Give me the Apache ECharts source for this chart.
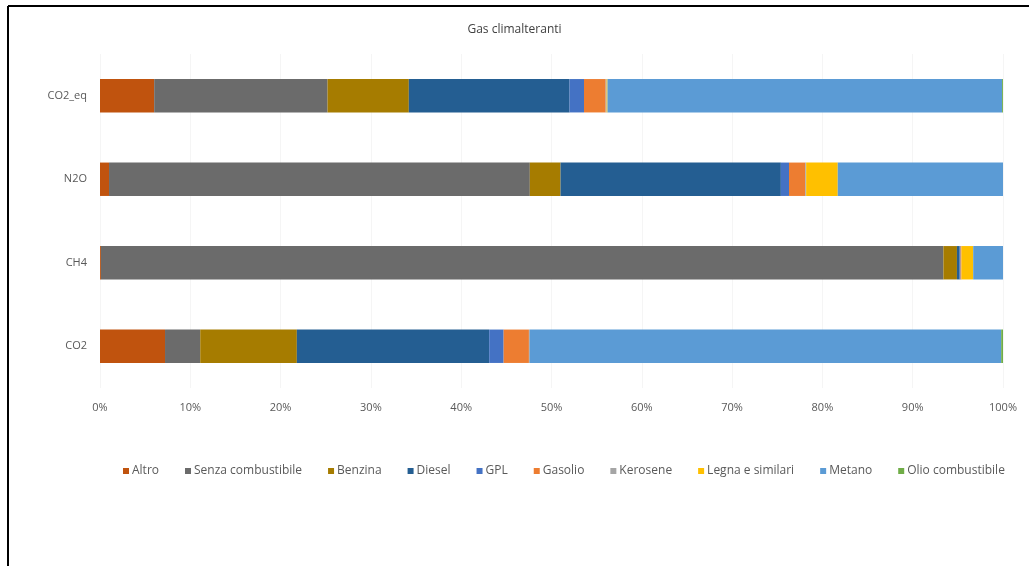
<!DOCTYPE html>
<html><head><meta charset="utf-8">
<script src="https://cdn.jsdelivr.net/npm/echarts@6/dist/echarts.min.js"></script>
<style>html,body{margin:0;padding:0;background:#fff}#c{width:1029px;height:566px}</style>
</head><body><div id="c"></div>
<script>
const categories = ['CO2', 'CH4', 'N2O', 'CO2_eq'];
const seriesNames = ['Altro','Senza combustibile','Benzina','Diesel','GPL','Gasolio','Kerosene','Legna e similari','Metano','Olio combustibile'];
// values in % per category (CO2, CH4, N2O, CO2_eq)
const altro      = [7.2, 0.1, 1.0, 6.0];
const senza      = [3.9, 93.3, 46.6, 19.2];
const benzina    = [10.7, 1.5, 3.4, 9.0];
const diesel     = [21.3, 0.3, 24.4, 17.8];
const gpl        = [1.6, 0.1, 0.9, 1.6];
const gasolio    = [2.8, 0.1, 1.8, 2.4];
const kerosene   = [0.1, 0.0, 0.1, 0.1];
const legna      = [0.0, 1.3, 3.5, 0.1];
const metano     = [52.2, 3.3, 18.3, 43.7];
const olio       = [0.2, 0.0, 0.0, 0.1];
const xTicks = ['0%','10%','20%','30%','40%','50%','60%','70%','80%','90%','100%'];

const values = [altro, senza, benzina, diesel, gpl, gasolio, kerosene, legna, metano, olio];
const colors = ['#C0530E','#6B6B6B','#A67C00','#245E92','#4472C4','#ED7D31','#A5A5A5','#FFC000','#5B9BD5','#70AD47'];
const font = '"Open Sans", "Liberation Sans", sans-serif';

const chart = echarts.init(document.getElementById('c'), null, {renderer:'canvas'});
chart.setOption({
  animation: false,
  backgroundColor: '#fff',
  title: {text: 'Gas climalteranti', left: 'center', top: 19,
    textStyle: {fontFamily: font, fontSize: 12, fontWeight: 'normal', color: '#404040'}},
  grid: {left: 100, right: 26, top: 54, bottom: 178},
  xAxis: {type: 'value', min: 0, max: 100, interval: 10,
    axisLabel: {formatter: v => xTicks[Math.round(v/10)], fontFamily: font, fontSize: 11, color: '#595959', margin: 14},
    axisLine: {show: false}, axisTick: {show: false},
    splitLine: {show: true, lineStyle: {color: '#f5f5f5', width: 1}}},
  yAxis: {type: 'category', data: categories,
    axisLabel: {fontFamily: font, fontSize: 11, color: '#595959', margin: 13},
    axisLine: {show: false}, axisTick: {show: false}},
  legend: {bottom: 84, left: 118, itemWidth: 6, itemHeight: 6, itemGap: 26, icon: 'rect',
    textStyle: {fontFamily: font, fontSize: 12, color: '#595959', padding: [0,0,0,-2]},
    data: seriesNames},
  series: seriesNames.map((n, i) => ({
    name: n, type: 'bar', stack: 'total', barWidth: '40%',
    itemStyle: {color: colors[i]}, data: values[i]
  })),
  graphic: [
    {type: 'line', shape: {x1: 8, y1: 6, x2: 8, y2: 566}, style: {stroke: '#000', lineWidth: 2}},
    {type: 'line', shape: {x1: 8, y1: 6, x2: 1029, y2: 6}, style: {stroke: '#000', lineWidth: 2}}
  ]
});
</script></body></html>
